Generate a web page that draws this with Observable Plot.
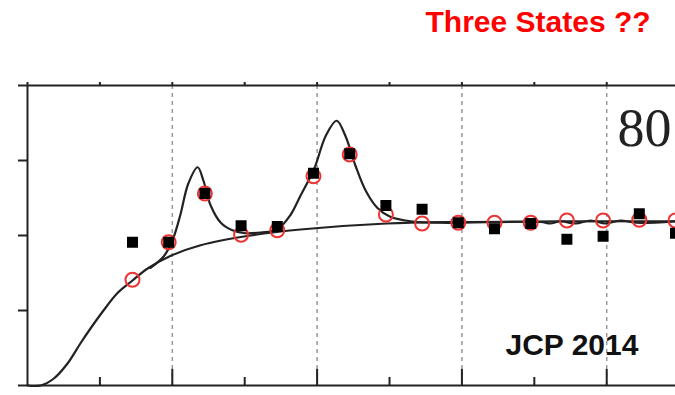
<!DOCTYPE html>
<html><head><meta charset="utf-8">
<script src="https://cdn.jsdelivr.net/npm/d3@7"></script>
<script src="https://cdn.jsdelivr.net/npm/@observablehq/plot@0.6"></script>
<style>html,body{margin:0;padding:0;background:#fff;}</style>
</head><body><div id="chart"></div>
<script>
// measured points (x shared by both series)
const ptX = [1.45,1.95,2.45,2.95,3.45,3.95,4.45,4.95,5.45,5.95,6.45,6.95,7.45,7.95,8.45,8.95];
const circleY = [1.41,1.91,2.56,2.01,2.07,2.79,3.08,2.28,2.16,2.17,2.17,2.17,2.20,2.20,2.21,2.20];
const squareY = [1.91,1.91,2.56,2.13,2.12,2.83,3.09,2.40,2.35,2.17,2.09,2.16,1.95,1.99,2.29,2.03];
// sigmoid fit curve
const baseX = [0,0.18,0.36,0.55,0.73,0.87,1.05,1.24,1.45,1.66,1.98,2.39,3.08,3.77,4.96,5.98,8.95];
const baseY = [0,0.00,0.09,0.29,0.56,0.76,1.00,1.23,1.40,1.56,1.73,1.87,2.00,2.08,2.16,2.18,2.19];
// two-peak fit curve
const peakX = [1.70,1.88,2.00,2.11,2.22,2.35,2.43,2.53,2.67,2.83,3.01,3.22,3.45,3.63,3.77,3.96,4.12,4.27,4.39,4.53,4.67,4.83,5.01,5.29,5.70,7.09,7.22,7.36,7.57,7.78,7.98,8.19,8.40,8.95];
const peakY = [1.57,1.72,1.93,2.27,2.69,2.91,2.73,2.40,2.17,2.07,2.03,2.04,2.08,2.27,2.53,2.89,3.33,3.53,3.33,2.93,2.60,2.37,2.25,2.19,2.17,2.18,2.16,2.19,2.16,2.20,2.16,2.20,2.17,2.19];
const gridX = [2,4,6,8];
const topTicks = [0,1,2,3,4,5,6,7,8];
const majorTicks = [2,4,6,8];
const minorTicks = [1,3,5,7];
const yTicks = [0,1,2,3,4];
const title = "Three States ??";
const panelLabel = "80";
const source = "JCP 2014";

const pts = ptX.map((x,i)=>({x, c: circleY[i], s: squareY[i]}));
const base = baseX.map((x,i)=>({x, y: baseY[i]}));
const peak = peakX.map((x,i)=>({x, y: peakY[i]}));
const ink = "#222";
const none = () => "";

const chart = Plot.plot({
  width: 675, height: 395,
  marginLeft: 27, marginTop: 85, marginBottom: 10, marginRight: 0,
  x: {domain: [0, 8.95], axis: null},
  y: {domain: [0, 4], axis: null},
  style: {background: "#fff", overflow: "visible"},
  marks: [
    Plot.ruleX(gridX, {stroke: "#9a9a9a", strokeWidth: 1.5, strokeDasharray: "4,4"}),
    Plot.axisY(yTicks, {anchor: "left", tickSize: 9, tickFormat: none, label: null, stroke: ink, strokeWidth: 2}),
    Plot.axisX(topTicks, {anchor: "top", tickSize: 4, tickFormat: none, label: null, stroke: ink, strokeWidth: 2}),
    Plot.ruleX(majorTicks, {y1: 0, y2: 0.215, stroke: ink, strokeWidth: 2}),
    Plot.ruleX(minorTicks, {y1: 0, y2: 0.107, stroke: ink, strokeWidth: 2}),
    Plot.ruleY([0, 4], {stroke: ink, strokeWidth: 2}),
    Plot.ruleX([0], {stroke: ink, strokeWidth: 2}),
    Plot.line(base, {x: "x", y: "y", curve: "catmull-rom", stroke: ink, strokeWidth: 2.2}),
    Plot.line(peak, {x: "x", y: "y", curve: "catmull-rom", stroke: ink, strokeWidth: 2.2}),
    Plot.dot(pts, {x: "x", y: "c", r: 7, stroke: "#ee3333", strokeWidth: 2, fill: "none"}),
    Plot.dot(pts, {x: "x", y: "s", r: 6.2, symbol: "square", fill: "#000", stroke: "none"}),
    Plot.text([title], {text: d => d, frameAnchor: "top-left", textAnchor: "start", lineAnchor: "top", dx: 398, dy: -75, fill: "#f00", fontSize: 30, fontWeight: "bold", fontFamily: "Liberation Sans"}),
    Plot.text([panelLabel], {text: d => d, frameAnchor: "top-left", textAnchor: "start", lineAnchor: "top", dx: 590, dy: 22, fill: "#222", fontSize: 54, fontFamily: "Liberation Serif"}),
    Plot.text([source], {text: d => d, frameAnchor: "bottom-left", textAnchor: "start", lineAnchor: "top", dx: 478, dy: -52, fill: "#111", fontSize: 30, fontWeight: "bold", fontFamily: "Liberation Sans"})
  ]
});
document.getElementById("chart").appendChild(chart);
</script>
</body></html>
